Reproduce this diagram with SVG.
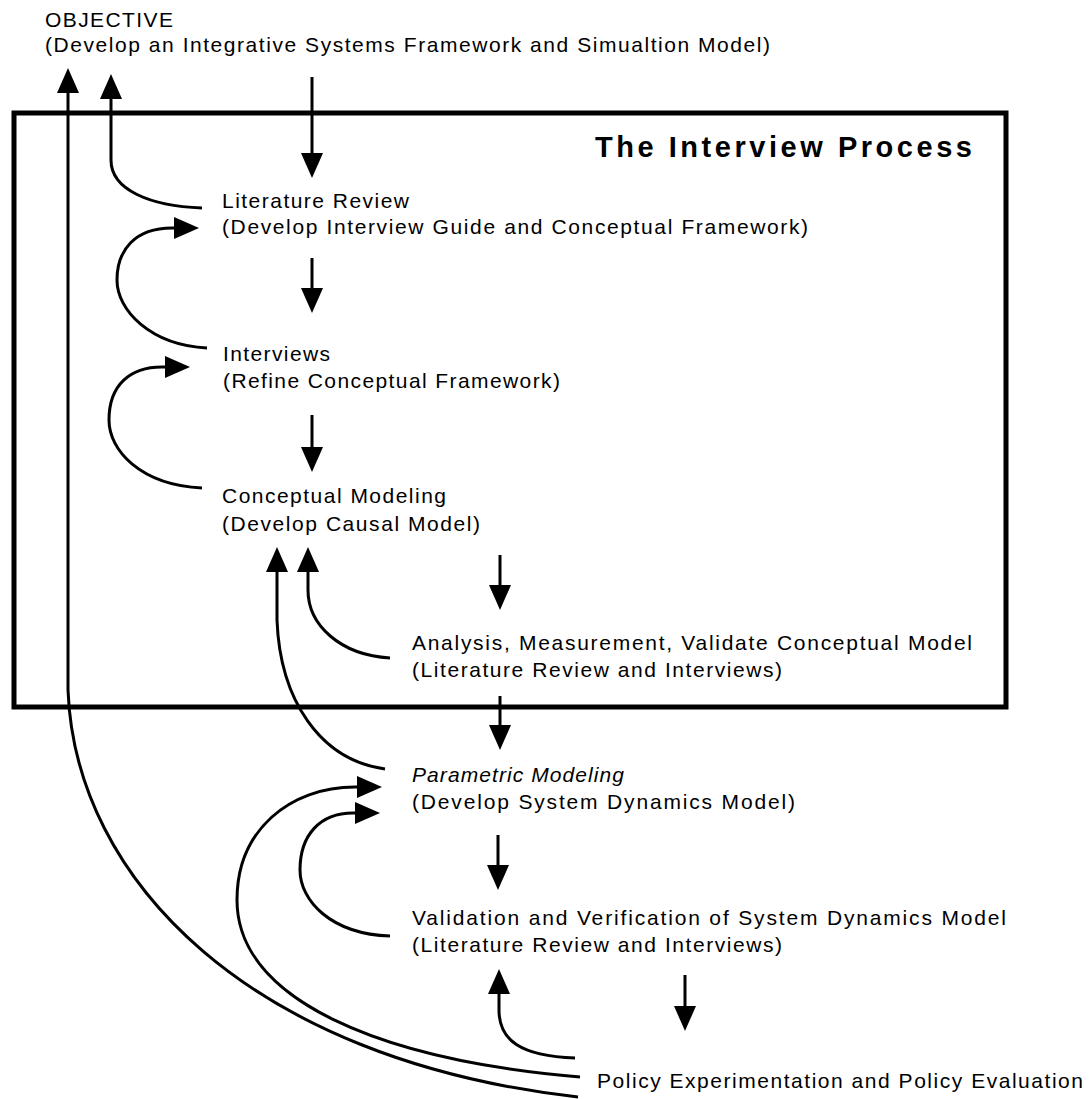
<svg xmlns="http://www.w3.org/2000/svg" width="1091" height="1099" viewBox="0 0 1091 1099">
<style>
text { font-family: "Liberation Sans", Arial, Helvetica, sans-serif; font-size: 21px; fill: #000; }
.title { font-weight: bold; font-size: 29px; }
.it { font-style: italic; }
.conn path { fill: none; stroke: #000; stroke-width: 3; marker-end: url(#ah); }
.frame { fill: none; stroke: #000; stroke-width: 5; }
</style>
<defs>
<marker id="ah" markerUnits="userSpaceOnUse" markerWidth="25" markerHeight="22" viewBox="0 0 25 22" refX="3" refY="11" orient="auto">
<path d="M0,0 L25,11 L0,22 z" fill="#000"/>
</marker>
</defs>
<rect width="1091" height="1099" fill="#fff"/>
<g id="frame">
<rect class="frame" x="14" y="113" width="992" height="594"/>
<text class="title" x="595" y="157" textLength="377" lengthAdjust="spacing">The Interview Process</text>
</g>
<g id="objective">
<text x="45" y="27" textLength="128" lengthAdjust="spacing">OBJECTIVE</text>
<text x="45" y="52" textLength="725" lengthAdjust="spacing">(Develop an Integrative Systems Framework and Simualtion Model)</text>
</g>
<g id="literature-review">
<text x="222" y="208" textLength="187" lengthAdjust="spacing">Literature Review</text>
<text x="222" y="234" textLength="586" lengthAdjust="spacing">(Develop Interview Guide and Conceptual Framework)</text>
</g>
<g id="interviews">
<text x="223" y="361" textLength="107" lengthAdjust="spacing">Interviews</text>
<text x="223" y="388" textLength="337" lengthAdjust="spacing">(Refine Conceptual Framework)</text>
</g>
<g id="conceptual-modeling">
<text x="222" y="503" textLength="224" lengthAdjust="spacing">Conceptual Modeling</text>
<text x="222" y="531" textLength="258" lengthAdjust="spacing">(Develop Causal Model)</text>
</g>
<g id="analysis">
<text x="412" y="650" textLength="560" lengthAdjust="spacing">Analysis, Measurement, Validate Conceptual Model</text>
<text x="412" y="677" textLength="370" lengthAdjust="spacing">(Literature Review and Interviews)</text>
</g>
<g id="parametric-modeling">
<text class="it" x="412" y="782" textLength="212" lengthAdjust="spacing">Parametric Modeling</text>
<text x="412" y="809" textLength="383" lengthAdjust="spacing">(Develop System  Dynamics Model)</text>
</g>
<g id="validation">
<text x="412" y="925" textLength="594" lengthAdjust="spacing">Validation and Verification of System  Dynamics Model</text>
<text x="412" y="952" textLength="370" lengthAdjust="spacing">(Literature Review and Interviews)</text>
</g>
<g id="policy">
<text x="597" y="1088" textLength="486" lengthAdjust="spacing">Policy  Experimentation and Policy  Evaluation</text>
</g>
<g id="connectors" class="conn">
<path d="M312 77 L312 156"/>
<path d="M312 258 L312 291"/>
<path d="M312 415 L312 450"/>
<path d="M500 555 L500 588"/>
<path d="M500 696 L500 728"/>
<path d="M498 835 L498 868"/>
<path d="M685 975 L685 1009"/>
<path d="M202 208 C150 206 111 190 111 160 L111 96"/>
<path d="M578 1097 C250 1060 75 880 68 690 L68 90"/>
<path d="M207 348 C150 345 117 310 117 280 C117 250 135 228 172 228 L177 228"/>
<path d="M202 488 C140 485 109 450 109 420 C109 385 130 367 162 367 L168 367"/>
<path d="M390 658 C340 655 308 625 308 590 L308 569"/>
<path d="M385 769 C320 760 280 700 277 620 L277 569"/>
<path d="M580 1077 C380 1060 237 1000 237 900 C237 830 290 787 355 787 L360 787"/>
<path d="M390 936 C330 934 300 900 300 870 C300 835 320 813 353 813 L358 813"/>
<path d="M575 1058 C520 1056 499 1040 499 1010 L499 991"/>
</g>
</svg>
